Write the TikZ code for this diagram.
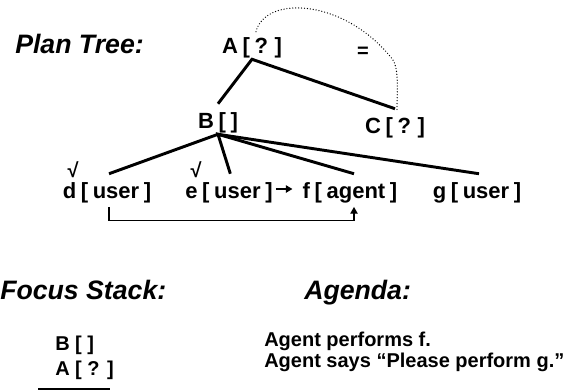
\documentclass[tikz,border=0pt]{standalone}
\usepackage{fontspec}
\setmainfont{Liberation Sans}
\usetikzlibrary{arrows.meta,calc}
\newcommand\mytreefont{\fontsize{16.5}{18}\selectfont\bfseries\spaceskip=0.21em\relax}
\begin{document}
\begin{tikzpicture}[x=0.75pt,y=-0.75pt,
  treenode/.style={font=\mytreefont, inner xsep=0pt, inner ysep=4pt, text height=14pt, text depth=0.5pt, anchor=base},
  heading/.style={font=\fontsize{20}{24}\selectfont\bfseries\itshape, inner sep=0pt, anchor=base west},
  plaintext/.style={font=\fontsize{15}{18}\selectfont\bfseries, inner sep=0pt, anchor=base west},
  checkmark/.style={font=\fontsize{15}{15}\selectfont\bfseries, inner sep=0pt, anchor=base},
  treeline/.style={line width=2.2pt},
  tip/.style={-{Triangle[length=5pt,width=5.5pt]}},
  dotline/.style={line width=1pt, line cap=round, dash pattern=on 0pt off 2.2pt}
]
\useasboundingbox (0,0) rectangle (571,390);
% headings
\node[heading] (pt) at (15,53) {Plan Tree:};
\node[heading] (fs) at (0,299) {Focus Stack:};
\node[heading] (agh) at (304,299) {Agenda:};
% plan tree
\node[treenode] (A) at (252,53) {A [ ? ]};
\node[treenode] (B) at (218,128) {B [ ]};
\node[treenode] (C) at (395,133) {C [ ? ]};
\node[treenode] (d) at (107,198) {d [ user ]};
\node[treenode] (e) at (229,198) {e [ user ]};
\node[treenode] (f) at (350,198) {f [ agent ]};
\node[treenode] (g) at (477,198) {g [ user ]};
\node[plaintext, anchor=center] (eq) at (363,52) {=};
\node[checkmark] (dchk) at (73,177) {√};
\node[checkmark] (echk) at (196,177) {√};
\draw[treeline] (B.north) -- (A.south) -- (C.north);
\draw[treeline] ([xshift=1.5pt]d.north) -- (B.south) -- ([xshift=1.5pt]g.north);
\draw[treeline] ([xshift=1pt]e.north) -- (B.south) -- ([xshift=3pt]f.north);
\draw[dotline] ($(A.north)+(4,3)$) .. controls (265,-5) and (345,-2) .. (393,60)
  .. controls (399,70) and (397,90) .. ($(C.north)+(2,1)$);
\draw[tip, line width=1.2pt, shorten <=2.25pt, shorten >=7.5pt] (e.east) -- (f.west);
\draw[tip, line width=0.8pt, shorten <=2pt, shorten >=2pt] ([xshift=1.5pt]d.south) -- ++(0,16) -| ([xshift=3pt]f.south);
% focus stack
\node[plaintext] (fsB) at (55,350) {B [ ]};
\node[plaintext] (fsA) at (55,375) {A [ ? ]};
\coordinate (sbl) at (38,389);
\coordinate (sbr) at (110,389);
\draw[line width=1.2pt] (sbl) -- (sbr);
% agenda
\node[plaintext] (ag1) at (264,346) {Agent performs f.};
\node[plaintext] (ag2) at (264,367) {Agent says “Please perform g.”};
\end{tikzpicture}
\end{document}
